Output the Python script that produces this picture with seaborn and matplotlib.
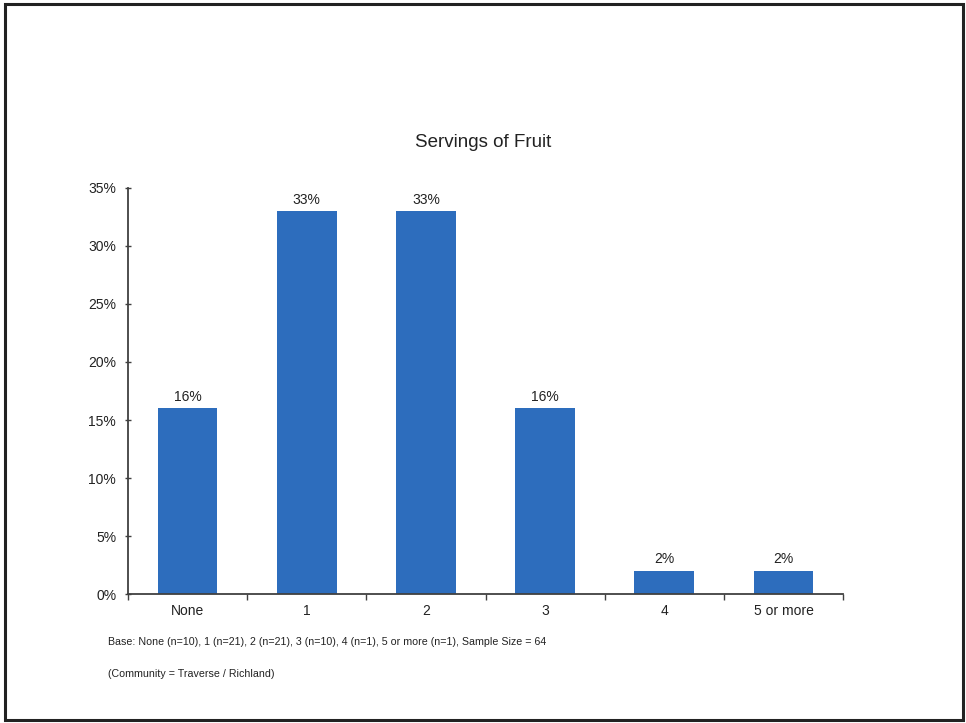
import matplotlib
matplotlib.use("Agg")
import matplotlib.pyplot as plt
import seaborn as sns
import pandas as pd
from matplotlib.patches import Rectangle
from matplotlib.ticker import FuncFormatter, FixedLocator

categories = ["None", "1", "2", "3", "4", "5 or more"]
values = [16, 33, 33, 16, 2, 2]
labels = ["16%", "33%", "33%", "16%", "2%", "2%"]
yticks = [0, 5, 10, 15, 20, 25, 30, 35]

sns.set_theme(style="white")
plt.rcParams['font.family'] = ['Liberation Sans', 'DejaVu Sans']

df = pd.DataFrame({"cat": categories, "val": values})

fig = plt.figure(figsize=(9.66, 7.23), dpi=100)
ax = fig.add_axes([0.1325, 0.1784, 0.7402, 0.5616])

sns.barplot(data=df, x="cat", y="val", color="#2d6dbd", width=0.5,
            saturation=1, ax=ax, edgecolor="none")

ax.set_ylim(0, 35)
ax.set_xlim(-0.5, len(categories) - 0.5)
ax.yaxis.set_major_locator(FixedLocator(yticks))
ax.yaxis.set_major_formatter(FuncFormatter(lambda v, p: f"{int(v)}%"))
ax.set_xlabel("")
ax.set_ylabel("")

for sp in ["top", "right"]:
    ax.spines[sp].set_visible(False)
for sp in ["left", "bottom"]:
    ax.spines[sp].set_color("#404040")
    ax.spines[sp].set_linewidth(1.3)

ax.tick_params(axis="y", which="major", left=True, direction="inout", length=5,
               width=1, color="#404040", labelsize=10, labelcolor="#222222", pad=6)
# x tick marks between categories, labels at centres
ax.set_xticks(range(len(categories)))
ax.set_xticklabels(categories)
ax.tick_params(axis="x", which="major", bottom=False, labelsize=10,
               labelcolor="#222222", pad=1)
ax.set_xticks([i + 0.5 for i in range(-1, len(categories))], minor=True)
ax.tick_params(axis="x", which="minor", bottom=True, direction="out",
               length=4, width=1, color="#404040")

for i, (v, lab) in enumerate(zip(values, labels)):
    ax.text(i, v + 0.4, lab, ha="center", va="bottom", fontsize=10, color="#222222")

fig.text(0.5, 0.803, "Servings of Fruit", ha="center", va="center",
         fontsize=13.5, color="#222222")
fig.text(0.112, 0.112, "Base: None (n=10), 1 (n=21), 2 (n=21), 3 (n=10), 4 (n=1), 5 or more (n=1), Sample Size = 64",
         ha="left", va="center", fontsize=7.7, color="#222222")
fig.text(0.112, 0.068, "(Community = Traverse / Richland)",
         ha="left", va="center", fontsize=7.7, color="#222222")

fig.patches.append(Rectangle((0.005, 0.004), 0.992, 0.99, transform=fig.transFigure,
                             fill=False, edgecolor="#222222", linewidth=2.2))

fig.savefig("out.png", dpi=100, facecolor="white")
